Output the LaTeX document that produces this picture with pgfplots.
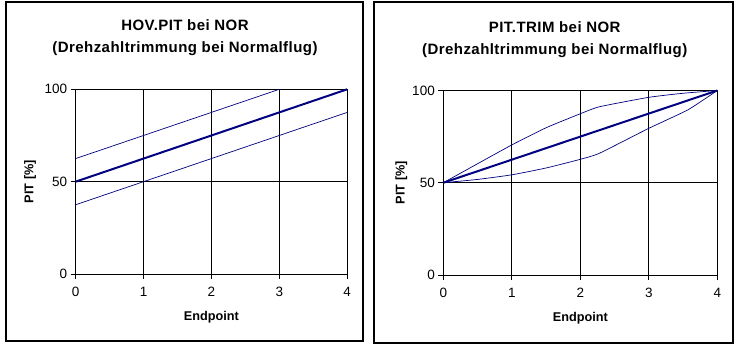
\documentclass[border=0pt]{standalone}
\usepackage{pgfplots}
\pgfplotsset{compat=1.18}
\usepackage{fontspec}
\setmainfont{Liberation Sans}
\newfontfamily\titlefont[LetterSpace=3]{Liberation Sans}
\definecolor{navy}{RGB}{0,0,128}
\pgfplotsset{mystyle/.style={
  scale only axis, anchor=south west,
  xmin=0, xmax=4, ymin=0, ymax=100,
  xtick={0,1,2,3,4}, ytick={0,50,100},
  grid=major, major grid style={black, line width=0.8pt},
  axis line style={black, line width=0.8pt},
  tick style={black, line width=0.8pt},
  tick align=outside, tick pos=left, major tick length=5pt,
  tick label style={font=\fontsize{13.5}{14}\selectfont},
  xticklabel style={yshift=-4.5pt},
  /pgf/number format/assume math mode=true,
  xlabel={Endpoint}, ylabel={PIT [\%]},
  label style={font=\bfseries\fontsize{12.7}{14}\selectfont},
  xlabel style={at={(axis description cs:0.5,0)}, anchor=center, yshift=-43pt},
  title style={font=\titlefont\bfseries\fontsize{15}{22}\selectfont, align=center,
    at={(axis description cs:0.5,1.245)}, anchor=center},
  clip=false,
}}
\begin{document}
\begin{tikzpicture}
\useasboundingbox (0pt,0pt) rectangle (742pt,356pt);
\fill[white] (0pt,0pt) rectangle (742pt,356pt);
\draw[line width=1.2pt] (6pt,15pt) rectangle (363pt,354pt);
\draw[line width=1.2pt] (374pt,13pt) rectangle (733pt,354pt);
\begin{axis}[mystyle, at={(75.7pt,82pt)}, width=271.5pt, height=184.7pt,
  title={HOV.PIT bei NOR\\(Drehzahltrimmung bei Normalflug)},
  title style={xshift=-26.5pt},
  ylabel style={at={(axis description cs:-0.168,0.5)}, anchor=center}]
\addplot[navy, line width=0.7pt] coordinates {(0,62.5) (1,75) (2,87.5) (3,100)};
\addplot[navy, line width=2pt] coordinates {(0,50) (1,62.5) (2,75) (3,87.5) (4,100)};
\addplot[navy, line width=0.7pt] coordinates {(0,37.5) (1,50) (2,62.5) (3,75) (4,87.5)};
\end{axis}
\begin{axis}[mystyle, at={(443.3pt,81pt)}, width=274pt, height=184.5pt,
  title={PIT.TRIM bei NOR\\(Drehzahltrimmung bei Normalflug)},
  title style={xshift=-25.6pt},
  ylabel style={at={(axis description cs:-0.153,0.5)}, anchor=center}]
\addplot[navy, line width=0.7pt, smooth, tension=0.3] coordinates {(0,50) (0.5,60.3) (1,70.5) (1.5,79.8) (2,87.4) (2.28,91.2) (3,96.3) (3.5,98.5) (4,100)};
\addplot[navy, line width=2pt] coordinates {(0,50) (1,62.5) (2,75) (3,87.5) (4,100)};
\addplot[navy, line width=0.7pt, smooth, tension=0.3] coordinates {(0,50) (0.5,51.8) (1,54.3) (1.5,58) (2,62.7) (2.28,66) (3,79.5) (3.57,89.5) (4,100)};
\end{axis}
\end{tikzpicture}
\end{document}
